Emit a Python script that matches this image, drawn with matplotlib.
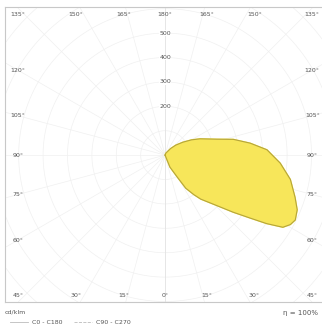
import numpy as np
import matplotlib
matplotlib.use("Agg")
import matplotlib.pyplot as plt
from matplotlib.lines import Line2D

plt.rcParams['font.family'] = ['DejaVu Sans']

# luminous intensity (cd/klm) vs gamma angle, C0 plane (drawn on right side)
gamma_c0 = [0, 22, 29, 32, 36, 39, 46, 50, 53.5, 56, 58.5, 61, 63.5, 67.5, 72,
            79, 86, 93, 98, 103, 107, 115, 120, 126, 133, 140, 160, 180]
cd_c0 = [0, 53, 103, 160, 200, 232, 300, 364, 434, 502, 566, 587, 596, 586, 560,
         523, 473, 418, 352, 287, 223, 158, 125, 90, 60, 35, 8, 0]

radial_labels = [200, 300, 400, 500]
angle_ticks = [0, 15, 30, 45, 60, 75, 90, 105, 120, 135, 150, 165, 180]
unit_label = "cd/klm"
eta_label = "\u03b7 = 100%"
legend_names = ["C0 - C180", "C90 - C270"]

fig = plt.figure(figsize=(3.22, 3.27), dpi=100)
ax = fig.add_axes([5/322, 25/327, 317/322, 295/327])
ax.set_xlim(-656, 643)
ax.set_ylim(-602, 607)
ax.set_xticks([])
ax.set_yticks([])
for s in ax.spines.values():
    s.set_color('#c8c8c8')
    s.set_linewidth(0.8)
ax.spines['right'].set_visible(False)

# polar grid
grid_c = '#f0f0f0'
for r in range(100, 1000, 100):
    t = np.linspace(0, 2*np.pi, 200)
    ax.plot(r*np.cos(t), r*np.sin(t), color=grid_c, lw=0.5, zorder=1)
for a in range(0, 360, 15):
    ar = np.radians(a)
    ax.plot([0, 1200*np.sin(ar)], [0, -1200*np.cos(ar)], color=grid_c, lw=0.5, zorder=1)
ax.plot([0, 0], [-610, 610], color='#e0e0e0', lw=0.5, zorder=1)

# intensity curve
g = np.radians(gamma_c0)
r = np.array(cd_c0)
x = r*np.sin(g)
y = -r*np.cos(g)
ax.fill(x, y, color='#f7e65a', zorder=3)
ax.plot(x, y, color='#b5a53a', lw=0.8, zorder=4, solid_joinstyle='round')

# angle labels round the frame
tc = '#555555'
fs = 4.5
for a in angle_ticks:
    ar = np.radians(a)
    for side in (-1, 1):
        if a in (0, 180) and side == 1:
            continue
        if a <= 45:
            lx = side*574*np.tan(ar)*1.1
            ly = -574
        elif a >= 135:
            lx = side*578*np.tan(np.pi - ar)*1.1
            ly = 578
        else:
            lx = side*603
            ly = -603/np.tan(ar)
        if abs(lx) > 603:
            lx = np.sign(lx)*603
        ax.text(lx, ly, "%d\u00b0" % a, fontsize=fs, color=tc,
                ha='center', va='center', zorder=5)

for v in radial_labels:
    ax.text(0, v, str(v), fontsize=fs, color=tc, ha='center', va='center',
            zorder=5, bbox=dict(facecolor='white', edgecolor='none', pad=0.3))

fig.text(5/322, 1 - 312/327, unit_label, fontsize=fs, color=tc, ha='left', va='center')
fig.text(318/322, 1 - 313/327, eta_label, fontsize=5, color=tc, ha='right', va='center')

fig.add_artist(Line2D([10/322, 28/322], [1 - 322/327]*2, color='#bbbbbb', lw=0.6))
fig.text(32/322, 1 - 322/327, legend_names[0], fontsize=fs, color=tc, ha='left', va='center')
fig.add_artist(Line2D([74/322, 92/322], [1 - 322/327]*2, color='#bbbbbb', lw=0.6, ls='--'))
fig.text(96/322, 1 - 322/327, legend_names[1], fontsize=fs, color=tc, ha='left', va='center')

fig.savefig('out.png', dpi=100)
